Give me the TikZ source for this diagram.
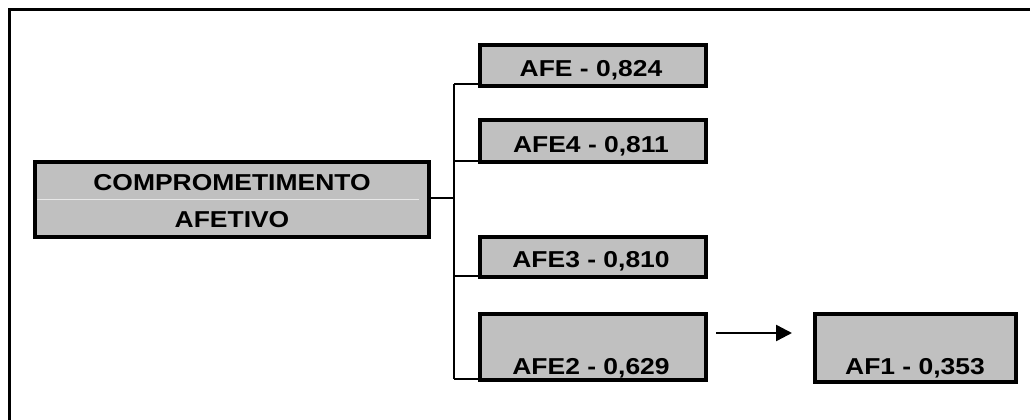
\documentclass[tikz,border=0pt]{standalone}
\usepackage{fontspec}
\setmainfont{Liberation Sans}
\usetikzlibrary{arrows.meta}
\definecolor{boxgray}{RGB}{192,192,192}
\definecolor{divline}{RGB}{232,232,232}
\newcommand{\wtxt}[1]{\scalebox{1.15}[1]{#1}}
\begin{document}
\begin{tikzpicture}[x=1pt,y=-1pt,
  box/.style={draw=black, fill=boxgray, line width=3.6pt, inner sep=0pt, outer sep=0pt},
  lbl/.style={anchor=base, inner sep=0pt, font=\fontsize{23}{27}\selectfont\bfseries, text=black},
  conn/.style={draw=black, line width=2.4pt},
  frame/.style={draw=black, line width=3.6pt}
]
\useasboundingbox (0,0) rectangle (1030,420);
% outer frame (only top and left visible)
\coordinate (ftop) at (1035,9.5);
\coordinate (fcorner) at (9.5,9.5);
\coordinate (fbot) at (9.5,425);
\draw[frame] (ftop) -- (fcorner) -- (fbot);

% main box
\node[box, minimum width=394pt, minimum height=75pt] (main) at (232,199.5) {};
\draw[divline, line width=1.2pt] ([xshift=2pt]main.west) -- ([xshift=-10pt]main.east);
\node[lbl] (mainA) at (232,190) {\wtxt{COMPROMETIMENTO}};
\node[lbl] (mainB) at (232,227) {\wtxt{AFETIVO}};

% right boxes
\node[box, minimum width=226pt, minimum height=41pt] (afe) at (593,65.5) {};
\node[lbl] (afeT) at (591,77) {\wtxt{AFE - 0,824}};
\node[box, minimum width=226pt, minimum height=42pt] (afe4) at (593,141) {};
\node[lbl] (afe4T) at (591,152.5) {\wtxt{AFE4 - 0,811}};
\node[box, minimum width=226pt, minimum height=40pt] (afe3) at (593,257) {};
\node[lbl] (afe3T) at (591,267.5) {\wtxt{AFE3 - 0,810}};
\node[box, minimum width=226pt, minimum height=66pt] (afe2) at (593,347) {};
\node[lbl] (afe2T) at (591,374) {\wtxt{AFE2 - 0,629}};
\node[box, minimum width=201pt, minimum height=68pt] (af1) at (915.5,348) {};
\node[lbl] (af1T) at (915,374) {\wtxt{AF1 - 0,353}};

% bracket connectors
\coordinate (bmid) at (454,198);
\coordinate (b1) at (454,84);
\coordinate (b4) at (454,379);
\draw[conn] (main.east |- bmid) -- (bmid);
\draw[conn] (b1) -- (b4);
\draw[conn] (b1) -- (afe.west |- b1);
\draw[conn] (454,161) -- (afe4.west |- 0,161);
\draw[conn] (454,276) -- (afe3.west |- 0,276);
\draw[conn] (b4) -- (afe2.west |- b4);

% arrow
\coordinate (arS) at (716,333);
\coordinate (arE) at (792,333);
\draw[conn, -{Triangle[length=16pt,width=16pt]}] (arS) -- (arE);
\end{tikzpicture}
\end{document}
